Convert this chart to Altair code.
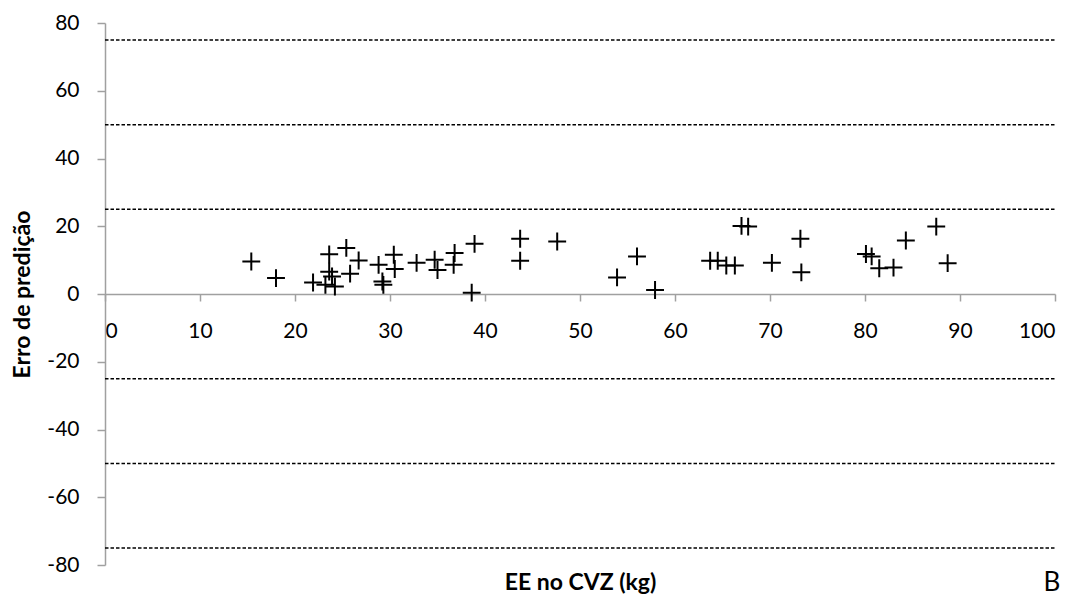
import altair as alt
import pandas as pd

# Data
ee_cvz = [15.4, 18.0, 21.9, 23.6, 25.4, 26.7, 23.6, 23.9, 25.8, 23.2, 24.2, 28.8,
          30.4, 30.5, 29.2, 29.3, 32.8, 34.7, 35.0, 36.8, 36.7, 38.9, 38.6, 43.7,
          43.7, 47.6, 53.9, 56.0, 57.9, 63.7, 64.5, 65.4, 66.3, 67.0, 67.7, 70.2,
          73.2, 73.3, 80.1, 80.7, 81.5, 83.0, 84.3, 87.5, 88.7]
erro = [9.6, 4.7, 3.4, 11.7, 13.6, 9.9, 6.6, 5.2, 6.0, 2.7, 2.2, 8.6,
        11.6, 7.4, 3.7, 2.7, 9.2, 10.1, 7.1, 12.1, 8.6, 14.8, 0.4, 16.3,
        9.8, 15.5, 4.9, 11.1, 1.2, 9.8, 9.8, 8.4, 8.4, 20.1, 19.9, 9.2,
        16.3, 6.4, 11.8, 11.1, 7.6, 7.8, 15.8, 19.9, 9.1]
ref_lines = [75, 50, 25, -25, -50, -75]
x_ticks = [0, 10, 20, 30, 40, 50, 60, 70, 80, 90, 100]
y_ticks = [-80, -60, -40, -20, 0, 20, 40, 60, 80]
x_title = "EE no CVZ (kg)"
y_title = "Erro de predição"
panel_letter = "B"

W, H = 950, 542
FONT = "Lato"
AXIS_COLOR = "#A0A0A0"

pts = pd.DataFrame({"x": ee_cvz, "y": erro})
lines = pd.DataFrame({"y": ref_lines, "x0": [0] * len(ref_lines), "x1": [100] * len(ref_lines)})
letter = pd.DataFrame({"t": [panel_letter]})

xscale = alt.Scale(domain=[0, 100], nice=False, zero=False)
yscale = alt.Scale(domain=[-80, 80], nice=False, zero=False)

xaxis = alt.Axis(
    values=x_ticks, grid=False, offset=-(H - H * 80 / 160), orient="bottom",
    domainColor=AXIS_COLOR, domainWidth=1.5, tickColor=AXIS_COLOR, tickWidth=1.5,
    tickSize=7, labelFont=FONT, labelFontSize=21, labelColor="black",
    labelPadding=19, labelBaseline="top", labelExpr="'' + datum.value",
    title=x_title, titleFont=FONT, titleFontSize=23, titleFontWeight="bold",
    titleColor="black", titleX=W / 2, titleY=295, titleBaseline="alphabetic",
    titleAlign="center",
)
yaxis = alt.Axis(
    values=y_ticks, grid=False, orient="left",
    domainColor=AXIS_COLOR, domainWidth=1.5, tickColor=AXIS_COLOR, tickWidth=1.5,
    tickSize=8, labelFont=FONT, labelFontSize=21, labelColor="black",
    labelPadding=18, labelExpr="'' + datum.value",
    title=y_title, titleFont=FONT, titleFontSize=23, titleFontWeight="bold",
    titleColor="black", titleX=-83, titleY=H / 2, titleAngle=-90,
    titleBaseline="middle", titleAlign="center",
)

rules = alt.Chart(lines).mark_rule(color="black", strokeWidth=1.5, strokeDash=[3.5, 2]).encode(
    x=alt.X("x0:Q", scale=xscale, axis=xaxis),
    x2="x1:Q",
    y=alt.Y("y:Q", scale=yscale, axis=yaxis),
)

points = alt.Chart(pts).mark_point(
    shape="M-1,0L1,0M0,-1L0,1", size=320, filled=False, color="black",
    strokeWidth=2, opacity=1,
).encode(
    x=alt.X("x:Q", scale=xscale, axis=xaxis),
    y=alt.Y("y:Q", scale=yscale, axis=yaxis),
)

letter_mark = alt.Chart(letter).mark_text(
    font=FONT, fontSize=26, color="black", align="center", baseline="alphabetic",
).encode(
    text="t:N", x=alt.value(947), y=alt.value(568),
)

chart = alt.layer(rules, points, letter_mark).properties(
    width=W, height=H,
    autosize=alt.AutoSizeParams(type="none"),
    padding={"left": 105, "top": 23, "right": 25, "bottom": 35},
    background="white",
).configure_view(stroke=None)

chart.save("out.html", embed_options={"renderer": "svg", "actions": False})
